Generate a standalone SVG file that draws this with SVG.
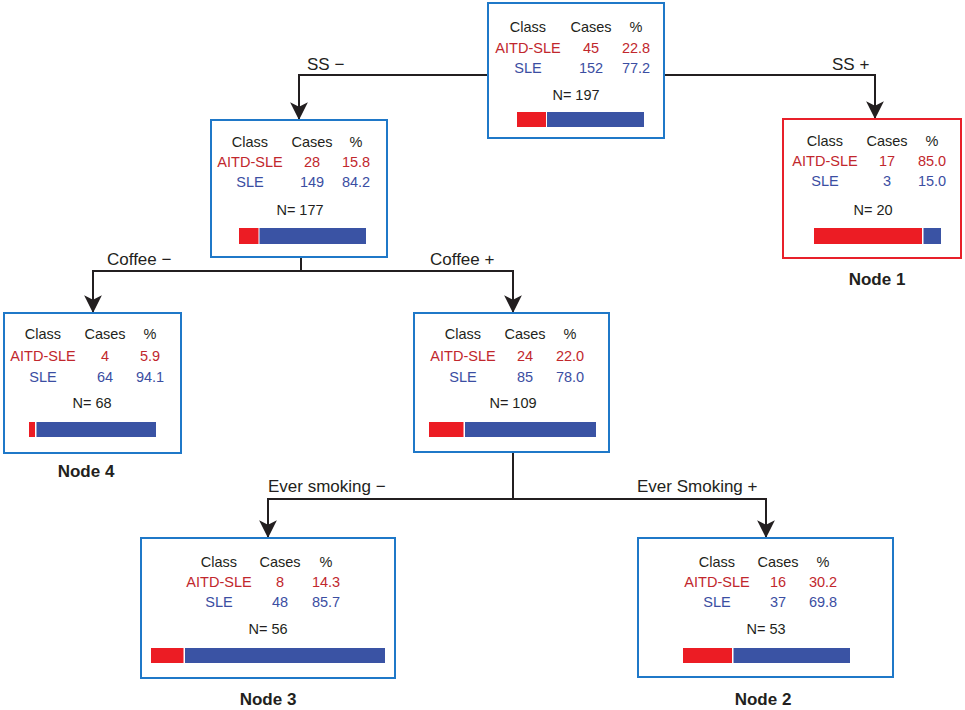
<svg xmlns="http://www.w3.org/2000/svg" width="965" height="710" viewBox="0 0 965 710">
<style>
text{font-family:"Liberation Sans",Arial,sans-serif}
.t{font-size:14.5px;text-anchor:middle;fill:#231f20}
.r{fill:#c1272d}
.b{fill:#3b4ea2}
.lab{font-size:17px;fill:#231f20}
.nl{font-size:17px;font-weight:bold;text-anchor:middle;fill:#231f20}
.box{fill:#fff;stroke:#1f78c8;stroke-width:2}
.boxr{fill:#fff;stroke:#e8202a;stroke-width:2}
.br{fill:#ec1c24}
.bb{fill:#3a53a4}
.ln{fill:none;stroke:#231f20;stroke-width:2}
</style>
<defs>
<marker id="ah" markerUnits="userSpaceOnUse" markerWidth="20" markerHeight="20" refX="0" refY="0" viewBox="-17 -9 18 18" orient="auto" overflow="visible">
<path d="M1,0 L-15,-8 L-11,0 L-15,8 Z" fill="#231f20"/>
</marker>
</defs>
<g id="connectors">
<path class="ln" d="M488,75 H299 V119" marker-end="url(#ah)"/>
<path class="ln" d="M664,75 H875 V118" marker-end="url(#ah)"/>
<path class="ln" d="M301,257 V271"/>
<path class="ln" d="M301,271 H93 V312" marker-end="url(#ah)"/>
<path class="ln" d="M301,271 H513 V312" marker-end="url(#ah)"/>
<path class="ln" d="M513,452 V499"/>
<path class="ln" d="M513,499 H268 V537" marker-end="url(#ah)"/>
<path class="ln" d="M513,499 H766 V537" marker-end="url(#ah)"/>
<text class="lab" x="307" y="70">SS −</text>
<text class="lab" x="832" y="70">SS +</text>
<text class="lab" x="107" y="265">Coffee −</text>
<text class="lab" x="430" y="265">Coffee +</text>
<text class="lab" x="268" y="492">Ever smoking −</text>
<text class="lab" x="637" y="492">Ever Smoking +</text>
</g>
<g id="root">
<rect class="box" x="488" y="3" width="176" height="135"/>
<text class="t" x="528" y="32">Class</text><text class="t" x="591" y="32">Cases</text><text class="t" x="636" y="32">%</text>
<text class="t r" x="528" y="53">AITD-SLE</text><text class="t r" x="591" y="53">45</text><text class="t r" x="636" y="53">22.8</text>
<text class="t b" x="528" y="73">SLE</text><text class="t b" x="591" y="73">152</text><text class="t b" x="636" y="73">77.2</text>
<text class="t" x="576" y="100">N= 197</text>
<rect class="br" x="517" y="112" width="29" height="15"/><rect class="bb" x="547" y="112" width="97" height="15"/>
</g>
<g id="ss-minus">
<rect class="box" x="211" y="120" width="176" height="137"/>
<text class="t" x="250" y="147">Class</text><text class="t" x="312" y="147">Cases</text><text class="t" x="356" y="147">%</text>
<text class="t r" x="250" y="167">AITD-SLE</text><text class="t r" x="312" y="167">28</text><text class="t r" x="356" y="167">15.8</text>
<text class="t b" x="250" y="187">SLE</text><text class="t b" x="312" y="187">149</text><text class="t b" x="356" y="187">84.2</text>
<text class="t" x="300" y="215">N= 177</text>
<rect class="br" x="239" y="228" width="19.5" height="16"/><rect class="bb" x="259.5" y="228" width="106.5" height="16"/>
</g>
<g id="node1">
<rect class="boxr" x="783" y="119" width="178" height="139"/>
<text class="t" x="825" y="146">Class</text><text class="t" x="887" y="146">Cases</text><text class="t" x="932" y="146">%</text>
<text class="t r" x="825" y="166">AITD-SLE</text><text class="t r" x="887" y="166">17</text><text class="t r" x="932" y="166">85.0</text>
<text class="t b" x="825" y="186">SLE</text><text class="t b" x="887" y="186">3</text><text class="t b" x="932" y="186">15.0</text>
<text class="t" x="873" y="215">N= 20</text>
<rect class="br" x="814" y="228" width="108" height="16"/><rect class="bb" x="923.5" y="228" width="17.5" height="16"/>
<text class="nl" x="877" y="285">Node 1</text>
</g>
<g id="node4">
<rect class="box" x="4" y="313" width="177" height="140"/>
<text class="t" x="43" y="339">Class</text><text class="t" x="105" y="339">Cases</text><text class="t" x="150" y="339">%</text>
<text class="t r" x="43" y="361">AITD-SLE</text><text class="t r" x="105" y="361">4</text><text class="t r" x="150" y="361">5.9</text>
<text class="t b" x="43" y="382">SLE</text><text class="t b" x="105" y="382">64</text><text class="t b" x="150" y="382">94.1</text>
<text class="t" x="92" y="408">N= 68</text>
<rect class="br" x="29" y="422" width="6" height="15"/><rect class="bb" x="36.5" y="422" width="119.5" height="15"/>
<text class="nl" x="86" y="477">Node 4</text>
</g>
<g id="coffee-plus">
<rect class="box" x="414" y="313" width="195" height="139"/>
<text class="t" x="463" y="339">Class</text><text class="t" x="525" y="339">Cases</text><text class="t" x="570" y="339">%</text>
<text class="t r" x="463" y="361">AITD-SLE</text><text class="t r" x="525" y="361">24</text><text class="t r" x="570" y="361">22.0</text>
<text class="t b" x="463" y="382">SLE</text><text class="t b" x="525" y="382">85</text><text class="t b" x="570" y="382">78.0</text>
<text class="t" x="513" y="408">N= 109</text>
<rect class="br" x="429" y="422" width="34.5" height="15"/><rect class="bb" x="465" y="422" width="131" height="15"/>
</g>
<g id="node3">
<rect class="box" x="141" y="538" width="254" height="140"/>
<text class="t" x="219" y="567">Class</text><text class="t" x="280" y="567">Cases</text><text class="t" x="326" y="567">%</text>
<text class="t r" x="219" y="587">AITD-SLE</text><text class="t r" x="280" y="587">8</text><text class="t r" x="326" y="587">14.3</text>
<text class="t b" x="219" y="607">SLE</text><text class="t b" x="280" y="607">48</text><text class="t b" x="326" y="607">85.7</text>
<text class="t" x="268" y="634">N= 56</text>
<rect class="br" x="151" y="648" width="32.5" height="15"/><rect class="bb" x="185" y="648" width="200" height="15"/>
<text class="nl" x="268" y="705">Node 3</text>
</g>
<g id="node2">
<rect class="box" x="638" y="538" width="255" height="139"/>
<text class="t" x="717" y="567">Class</text><text class="t" x="778" y="567">Cases</text><text class="t" x="823" y="567">%</text>
<text class="t r" x="717" y="587">AITD-SLE</text><text class="t r" x="778" y="587">16</text><text class="t r" x="823" y="587">30.2</text>
<text class="t b" x="717" y="607">SLE</text><text class="t b" x="778" y="607">37</text><text class="t b" x="823" y="607">69.8</text>
<text class="t" x="766" y="634">N= 53</text>
<rect class="br" x="683" y="648" width="49" height="15"/><rect class="bb" x="733.5" y="648" width="116.5" height="15"/>
<text class="nl" x="763" y="705">Node 2</text>
</g>
</svg>
